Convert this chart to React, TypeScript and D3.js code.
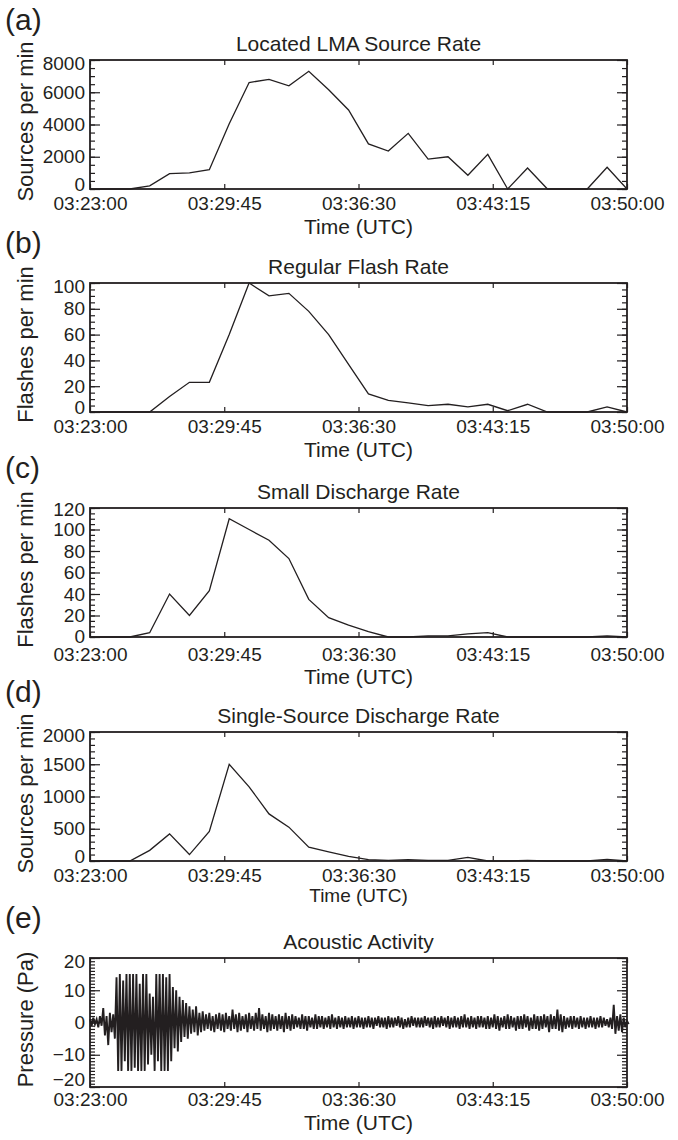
import React, { useEffect, useRef } from 'react';
import * as d3 from 'd3';

// rate samples: minutes after 03:23:00, one per minute
const rateMinutes = [0, 1, 2, 3, 4, 5, 6, 7, 8, 9, 10, 11, 12, 13, 14, 15, 16, 17, 18, 19, 20, 21, 22, 23, 24, 25, 26, 27];

const lmaSourceRate = [0, 0, 0, 200, 950, 1000, 1200, 4050, 6600, 6800, 6400, 7300, 6150, 4900, 2800, 2350, 3450, 1850, 2000, 850, 2150, 0, 1300, 0, 0, 0, 1350, 0];
const regularFlashRate = [0, 0, 0, 0, 12, 23, 23, 60, 100, 90, 92, 78, 60, 37, 14, 9, 7, 5, 6, 4, 6, 1, 6, 0, 0, 0, 4, 0];
const smallDischargeRate = [0, 0, 0, 4, 40, 20, 43, 110, 100, 90, 73, 35, 18, 11, 5, 0, 0, 1, 1, 3, 4, 0, 0, 0, 0, 0, 1, 0];
const singleSourceRate = [0, 0, 0, 165, 420, 100, 460, 1500, 1150, 730, 525, 215, 140, 70, 20, 10, 20, 10, 10, 55, 0, 0, 10, 0, 0, 0, 25, 0];

// acoustic trace, read as max / min per 10 s bin from 03:23:00
const acousticStepSeconds = 10;
const acousticHigh = [
  1, 1.5, 1, 2, 4.5, 2, 3, 2.5, 14, 15,
  13, 15, 15, 15, 15, 12, 15, 15, 9, 8,
  15, 15, 15, 14, 15, 11, 10, 8, 7, 6,
  5, 4, 5, 3, 3.5, 2.5, 3, 2, 2.5, 3,
  2.5, 3, 2, 4, 2.5, 3, 2, 2.5, 3, 2,
  3, 4.5, 2.5, 2, 3, 2.5, 2, 2.5, 2, 3,
  2, 2.5, 2, 1.5, 2.5, 2, 2, 1.5, 2.5, 2,
  2, 1.5, 2, 2.5, 1.5, 2, 1.5, 2, 1.5, 2,
  1.5, 2, 1.5, 1.5, 2, 1.5, 1.5, 2, 1.5, 1.5,
  2, 1.5, 1.5, 2, 1.5, 1, 1.5, 2, 1.5, 1.5,
  1.5, 2, 1.5, 1.5, 2, 1.5, 2, 1.5, 2, 1.5,
  2, 1.5, 2, 2.5, 1.5, 2, 1.5, 2, 2, 1.5,
  2, 1.5, 2.5, 2, 1.5, 2, 2.5, 2, 1.5, 2,
  2, 2.5, 2, 1.5, 2.5, 2, 2, 2.5, 2, 2.5,
  2, 4, 2.5, 2, 1.5, 2, 2, 1.5, 2, 1.5,
  1.5, 2, 1.5, 1.5, 2, 1.5, 1, 1.5, 5.5, 2,
  2.5, 1.5, 0.5,
];
const acousticLow = [
  -1, -0.5, -1.5, -1, -4, -7, -3, -5, -15, -15,
  -12, -15, -15, -14, -15, -15, -15, -13, -10, -15,
  -12, -15, -15, -15, -12, -8, -9, -6, -4.5, -5,
  -3.5, -3, -4, -3, -2.5, -2, -2.5, -3, -2, -2.5,
  -3, -2, -2.5, -2, -3, -2.5, -2, -3, -2, -2.5,
  -2, -2.5, -2, -3, -2.5, -2, -2.5, -2, -3, -2,
  -2.5, -2, -1.5, -2, -2, -2.5, -1.5, -2, -2, -1.5,
  -2, -1.5, -2, -1.5, -2, -1.5, -2, -1.5, -1.5, -2,
  -1.5, -1.5, -2, -1.5, -1.5, -2, -1, -1.5, -1.5, -2,
  -1.5, -1.5, -1, -1.5, -2, -1.5, -1.5, -1, -1.5, -1.5,
  -1.5, -1, -1.5, -2, -1.5, -1.5, -1, -1.5, -2, -1.5,
  -1.5, -2, -1.5, -1.5, -2, -1.5, -2, -1.5, -1.5, -2,
  -2, -1.5, -2, -2.5, -1.5, -2, -2, -1.5, -2.5, -2,
  -2, -1.5, -2.5, -2, -2, -2.5, -2, -1.5, -3, -2,
  -2, -2.5, -3, -2, -1.5, -2, -1.5, -2, -1.5, -2,
  -1.5, -1.5, -2, -1.5, -1.5, -1, -1.5, -2, -3.5, -2.5,
  -3, -1.5, -0.5,
];

const timeTickSeconds = [0, 405, 810, 1215, 1620];
const timeTickLabels = ['03:23:00', '03:29:45', '03:36:30', '03:43:15', '03:50:00'];

const panelLetters = ['(a)', '(b)', '(c)', '(d)', '(e)'];
const panelTitles = ['Located LMA Source Rate', 'Regular Flash Rate', 'Small Discharge Rate', 'Single-Source Discharge Rate', 'Acoustic Activity'];
const yAxisTitles = ['Sources per min', 'Flashes per min', 'Flashes per min', 'Sources per min', 'Pressure (Pa)'];
const yDomains = [[0, 8000], [0, 100], [0, 120], [0, 2000], [-20, 20]];
const yMajorSteps = [2000, 20, 20, 500, 10];
const yMinorSteps = [500, 5, 5, 100, 1];

const ink = '#231f20';
const font = '"Liberation Sans", Arial, Helvetica, sans-serif';

const App = () => {
  const svgRef = useRef<SVGSVGElement>(null);

  useEffect(() => {
    const width = 678;
    const height = 1140;
    const left = 90;
    const right = 627;
    const boxTops = [60, 283, 508, 732, 958];
    const boxH = 129;

    const svg = d3.select(svgRef.current).attr('width', width).attr('height', height);
    svg.selectAll('*').remove();

    const x = d3.scaleLinear().domain([0, 1620]).range([left, right]);

    const rateSeries = [lmaSourceRate, regularFlashRate, smallDischargeRate, singleSourceRate];

    panelTitles.forEach((title, i) => {
      const top = boxTops[i];
      const bottom = top + boxH;
      const [y0, y1] = yDomains[i];
      const y = d3.scaleLinear().domain([y0, y1]).range([bottom, top]);
      const g = svg.append('g');

      // series
      let pts: [number, number][];
      if (i < 4) {
        pts = rateMinutes.map((m, j) => [m * 60, rateSeries[i][j]]);
      } else {
        pts = [];
        acousticHigh.forEach((hi, j) => {
          pts.push([j * acousticStepSeconds, hi]);
          pts.push([j * acousticStepSeconds + acousticStepSeconds / 2, acousticLow[j]]);
        });
      }
      g.append('path')
        .datum(pts)
        .attr('d', d3.line<[number, number]>().x(d => x(d[0])).y(d => y(d[1])))
        .attr('fill', 'none')
        .attr('stroke', ink)
        .attr('stroke-width', i < 4 ? 1.3 : 1.9)
        .attr('stroke-linejoin', 'miter');

      const majors = d3.range(y0, y1 + 1e-9, yMajorSteps[i]);
      const minors = d3.range(y0, y1 + 1e-9, yMinorSteps[i]);
      const crowded = i === 2; // seven labels in panel (c)

      // minor ticks, left and right, inward
      g.append('g').attr('transform', `translate(${left},0)`)
        .call(d3.axisLeft(y).tickValues(minors).tickSize(-5).tickFormat(() => ''));
      g.append('g').attr('transform', `translate(${right},0)`)
        .call(d3.axisRight(y).tickValues(minors).tickSize(-5).tickFormat(() => ''));
      // major ticks
      const yl = g.append('g').attr('transform', `translate(${left},0)`)
        .call(d3.axisLeft(y).tickValues(majors).tickSize(-10).tickPadding(5).tickFormat(d3.format('d')));
      g.append('g').attr('transform', `translate(${right},0)`)
        .call(d3.axisRight(y).tickValues(majors).tickSize(-10).tickFormat(() => ''));
      g.append('g').attr('transform', `translate(0,${bottom})`)
        .call(d3.axisBottom(x).tickValues(timeTickSeconds).tickSize(-5)
          .tickPadding(crowded ? 11 : i < 4 ? 8 : 6)
          .tickFormat((d, k) => timeTickLabels[k]));
      g.append('g').attr('transform', `translate(0,${top})`)
        .call(d3.axisTop(x).tickValues(timeTickSeconds).tickSize(-5).tickFormat(() => ''));

      g.selectAll('.domain').remove();
      g.selectAll('.tick line').attr('stroke', ink).attr('stroke-width', 1.2);
      g.selectAll('g').attr('font-family', font).attr('font-size', 19).attr('color', ink);

      // end labels sit slightly inside the box, as in the original
      const lowShift = crowded ? -1 : i === 4 ? -8 : -5;
      yl.attr('font-size', crowded ? 16 : 19);
      yl.selectAll<SVGTextElement, number>('text')
        .attr('y', d => (d === y0 ? lowShift : d === y1 ? (crowded ? 1 : 3) : 0));

      g.append('rect')
        .attr('x', left).attr('y', top)
        .attr('width', right - left).attr('height', boxH)
        .attr('fill', 'none').attr('stroke', ink).attr('stroke-width', 1.8);

      g.append('text')
        .attr('x', 5).attr('y', top - 30)
        .attr('font-family', font).attr('font-size', 30).attr('fill', ink)
        .text(panelLetters[i]);

      g.append('text')
        .attr('x', (left + right) / 2).attr('y', top - 9)
        .attr('text-anchor', 'middle')
        .attr('font-family', font).attr('font-size', 21).attr('fill', ink)
        .text(title);

      g.append('text')
        .attr('transform', `translate(33,${top + boxH / 2 - 3}) rotate(-90)`)
        .attr('text-anchor', 'middle')
        .attr('font-family', font).attr('font-size', 22).attr('fill', ink)
        .text(yAxisTitles[i]);

      g.append('text')
        .attr('x', (left + right) / 2)
        .attr('y', bottom + (i === 3 ? 41 : i === 4 ? 43 : crowded ? 47 : 45))
        .attr('text-anchor', 'middle')
        .attr('font-family', font).attr('font-size', i === 3 ? 19 : 21).attr('fill', ink)
        .text('Time (UTC)');
    });
  }, []);

  return (
    <div style={{ position: 'absolute', left: 0, top: 0, background: '#fff' }}>
      <svg ref={svgRef} style={{ display: 'block' }}></svg>
    </div>
  );
};

export default App;
